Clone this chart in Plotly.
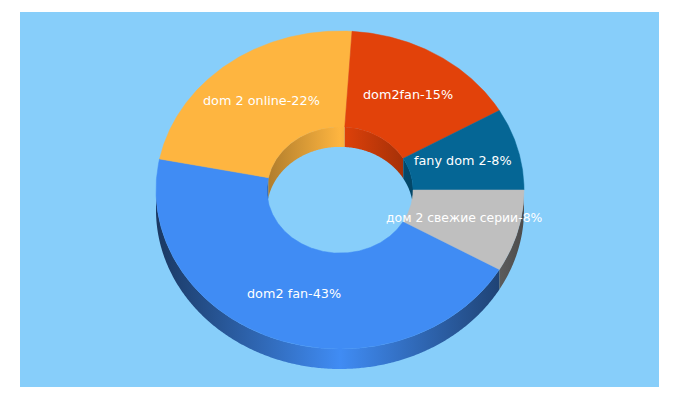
import numpy as np
import plotly.graph_objects as go

names = ['dom2 fan', 'dom 2 online', 'dom2fan', 'fany dom 2', 'дом 2 свежие серии']
values = [43, 22, 15, 8, 8]
colors = ['#408cf4', '#feb540', '#e2420a', '#056695', '#bfbfbf']
label_x = [294, 261.5, 407.5, 463, 464]
label_y = [293.5, 100.5, 94, 160.5, 217.5]
label_size = [12.8, 12.8, 12.8, 12.8, 12.4]

bg = '#87cefa'
cx, cy = 340, 190
rx, ry = 184, 159
hole = 0.397
depth = 20
start_angle = 30


def shade(col, f):
    rgb = [int(col[i:i + 2], 16) for i in (1, 3, 5)]
    return 'rgb({},{},{})'.format(*[round(c * f) for c in rgb])


def arc(a0, a1, k):
    t = np.radians(np.linspace(a0, a1, max(int(abs(a1 - a0) * 2), 2)))
    return cx + rx * k * np.cos(t), cy + ry * k * np.sin(t)


def wall(a0, a1, k, col, half, dark):
    # side of the ring between two angles, brightest in the middle of the chart
    x, y = arc(a0, a1, k)
    return go.Scatter(
        x=np.r_[x, x[::-1], x[0]], y=np.r_[y, y[::-1] + depth, y[0]],
        mode='none', fill='toself', hoverinfo='skip',
        fillgradient=dict(type='horizontal', start=cx - half, stop=cx + half,
                          colorscale=[[0, shade(col, dark)], [0.5, shade(col, 1)], [1, shade(col, dark)]]))


fig = go.Figure()

total = sum(values)
bounds = start_angle + np.r_[0, np.cumsum(values)] / total * 360

# inner walls, back half of the hole
for i, col in enumerate(colors):
    for lo, hi in [(180, 360), (540, 720)]:
        a0, a1 = max(bounds[i], lo), min(bounds[i + 1], hi)
        if a1 > a0:
            fig.add_trace(wall(a0, a1, hole, col, 80, 0.66))

# outer walls, front half
for i, col in enumerate(colors):
    for lo, hi in [(0, 180), (360, 540)]:
        a0, a1 = max(bounds[i], lo), min(bounds[i + 1], hi)
        if a1 > a0:
            fig.add_trace(wall(a0, a1, 1, col, 184, 0.40))

# top faces
for i, col in enumerate(colors):
    xo, yo = arc(bounds[i], bounds[i + 1], 1)
    xi, yi = arc(bounds[i + 1], bounds[i], hole)
    fig.add_trace(go.Scatter(
        x=np.r_[xo, xi, xo[0]], y=np.r_[yo, yi, yo[0]],
        mode='lines', fill='toself', fillcolor=col, hoverinfo='skip',
        line=dict(color=col, width=0.5)))

for n, v, lx, ly, ls in zip(names, values, label_x, label_y, label_size):
    fig.add_annotation(x=lx, y=ly, text='{}-{}%'.format(n, v), showarrow=False,
                       font=dict(family='DejaVu Sans', size=ls, color='white'))

fig.update_layout(
    width=680, height=400, showlegend=False,
    margin=dict(l=20, r=21, t=12, b=13, pad=0),
    paper_bgcolor='white', plot_bgcolor=bg,
    xaxis=dict(range=[20, 659], visible=False, fixedrange=True),
    yaxis=dict(range=[387, 12], visible=False, fixedrange=True))

fig.write_html("out.html", config={'displayModeBar': False},
               post_script="document.body.style.margin='0';")
